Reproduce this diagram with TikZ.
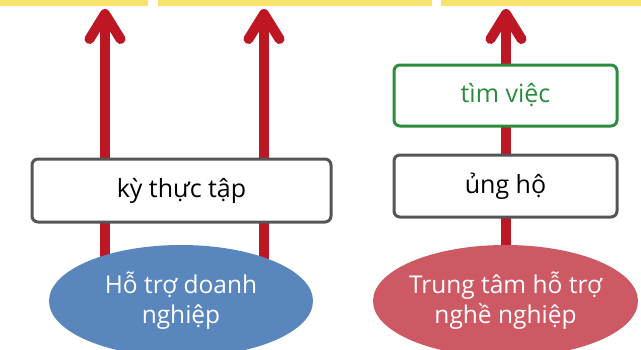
\documentclass[tikz,border=0pt]{standalone}
\usepackage{fontspec}
\setmainfont{Open Sans}
\usetikzlibrary{arrows.meta,shapes.geometric}
\definecolor{barY}{HTML}{F9E36E}
\definecolor{arrR}{HTML}{BC1723}
\definecolor{boxG}{HTML}{555555}
\definecolor{grn}{HTML}{2A8C3C}
\definecolor{ellB}{HTML}{5A86BE}
\definecolor{ellR}{HTML}{CD5964}
\tikzset{
  bar/.style={fill=barY, draw=none},
  uparrow/.style={draw=arrR, line width=10pt, -{Straight Barb[round, length=25pt, width=31pt]}},
  labelbox/.style={draw=boxG, line width=3pt, fill=white, rounded corners=6pt, font=\fontsize{25}{30}\selectfont, text=black},
  greenbox/.style={labelbox, draw=grn, text=grn},
  oval/.style={ellipse, draw=none, inner sep=0pt},
  ovaltext/.style={text=white, align=center, font=\fontsize{24.5}{30}\selectfont, inner sep=0pt}
}
\begin{document}
\begin{tikzpicture}[x=1pt,y=-1pt]
\useasboundingbox (0,0) rectangle (641,349);
\clip (0,0) rectangle (641,349);
\fill[bar] (0,-5) rectangle (148,6);
\fill[bar] (158,-5) rectangle (432,6);
\fill[bar] (441,-5) rectangle (646,6);
\coordinate (t1) at (105,9);
\coordinate (t2) at (264,9);
\coordinate (t3) at (506,9);
\coordinate (b1) at (105,300);
\coordinate (b2) at (264,300);
\coordinate (b3) at (506,300);
\draw[uparrow] (b1) -- (t1);
\draw[uparrow] (b2) -- (t2);
\draw[uparrow] (b3) -- (t3);
\node[labelbox, minimum width=299pt, minimum height=63pt] (ktt) at (181.5,190.5) {kỳ thực tập};
\node[greenbox, minimum width=223pt, minimum height=61pt] (tv) at (505.5,95.5) {tìm việc};
\node[labelbox, minimum width=223pt, minimum height=62pt] (uh) at (505.5,186) {ủng hộ};
\node[oval, fill=ellB, minimum width=264pt, minimum height=112pt,
  label={[ovaltext]center:{Hỗ trợ doanh\\nghiệp}}] (dn) at (181,301) {};
\node[oval, fill=ellR, minimum width=265pt, minimum height=112pt,
  label={[ovaltext]center:{Trung tâm hỗ trợ\\nghề nghiệp}}] (tt) at (505.5,301) {};
\end{tikzpicture}
\end{document}
